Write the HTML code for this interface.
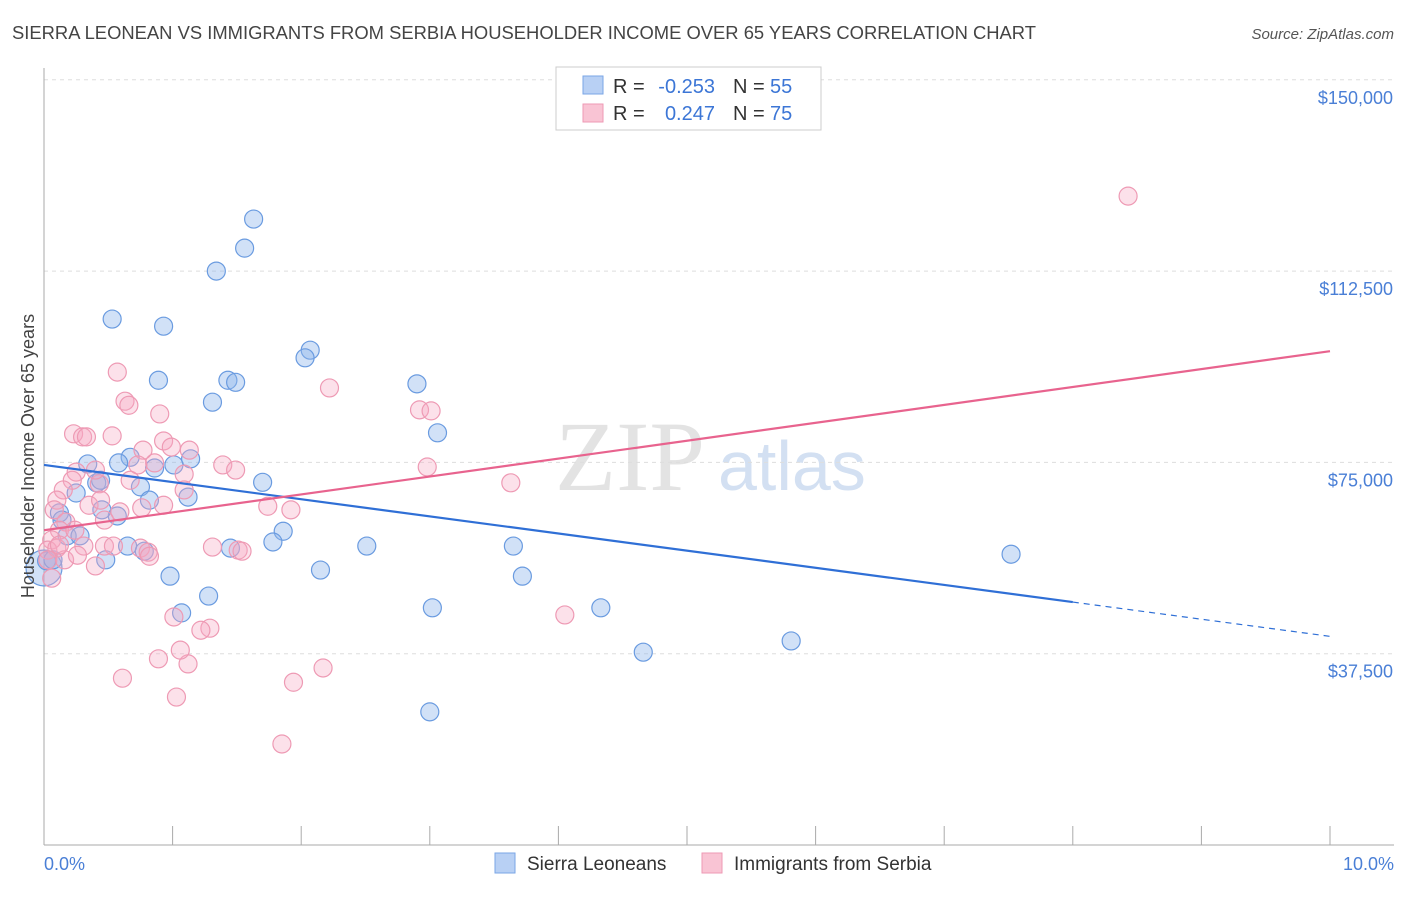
<!DOCTYPE html>
<html><head><meta charset="utf-8"><style>
body{margin:0;background:#fff;font-family:"Liberation Sans",sans-serif;}
</style></head><body>
<svg id="chart" width="1406" height="892" xmlns="http://www.w3.org/2000/svg" style="font-family:'Liberation Sans',sans-serif">
<text x="12" y="39" font-size="18" fill="#444" textLength="1024" lengthAdjust="spacingAndGlyphs">SIERRA LEONEAN VS IMMIGRANTS FROM SERBIA HOUSEHOLDER INCOME OVER 65 YEARS CORRELATION CHART</text>
<text x="1394" y="39" font-size="15" fill="#555" font-style="italic" text-anchor="end">Source: ZipAtlas.com</text>
<text x="555" y="490" font-size="100" fill="#ddd" font-family="Liberation Serif" opacity="0.8">ZIP</text>
<text x="718" y="490" font-size="70" fill="#c9d9ef" opacity="0.8">atlas</text>
<g id="grid"></g><g id="axes"></g><g id="pts"></g><g id="lines"></g>
<text transform="translate(34,456) rotate(-90)" font-size="18" fill="#444" text-anchor="middle">Householder Income Over 65 years</text>
<text x="44" y="870" font-size="18" fill="#4a7fd6">0.0%</text>
<text x="1394" y="870" font-size="18" fill="#4a7fd6" text-anchor="end">10.0%</text>
<g>
<rect x="556" y="67" width="265" height="63" fill="#fff" stroke="#ccc"/>
<rect x="583" y="76" width="20" height="18" fill="#b8d0f4" stroke="#7aa6e6"/>
<rect x="583" y="104" width="20" height="18" fill="#f9c4d4" stroke="#ee9ab4"/>
<text x="613" y="93" font-size="20" fill="#333">R =</text>
<text x="715" y="93" font-size="20" fill="#3c76d6" text-anchor="end">-0.253</text>
<text x="733" y="93" font-size="20" fill="#333">N =</text>
<text x="770" y="93" font-size="20" fill="#3c76d6">55</text>
<text x="613" y="120" font-size="20" fill="#333">R =</text>
<text x="715" y="120" font-size="20" fill="#3c76d6" text-anchor="end">0.247</text>
<text x="733" y="120" font-size="20" fill="#333">N =</text>
<text x="770" y="120" font-size="20" fill="#3c76d6">75</text>
</g>
<g>
<rect x="495" y="853" width="20" height="20" fill="#b8d0f4" stroke="#7aa6e6"/>
<text x="527" y="870" font-size="19" fill="#333">Sierra Leoneans</text>
<rect x="702" y="853" width="20" height="20" fill="#f9c4d4" stroke="#ee9ab4"/>
<text x="734" y="870" font-size="19" fill="#333">Immigrants from Serbia</text>
</g>
</svg>
<script>
const blueX=[1.63,1.56,1.34,0.53,0.93,2.07,2.03,0.89,1.43,1.49,2.90,1.31,3.06,0.67,0.34,0.58,1.14,0.86,1.01,1.70,0.75,0.41,0.25,1.12,0.82,0.12,0.57,0.45,1.86,1.78,0.18,0.28,0.65,0.78,2.51,3.65,1.45,7.52,0.48,2.15,0.98,3.72,0.0,0.02,1.28,1.07,3.02,4.33,4.66,5.81,3.00,0.07,0.14,0.44];
const blueY=[122.7,117.0,112.5,103.1,101.7,97.0,95.5,91.1,91.1,90.7,90.4,86.8,80.8,76.0,74.7,74.9,75.7,73.9,74.5,71.1,70.2,71.0,69.0,68.2,67.6,65.1,64.5,65.7,61.5,59.4,60.6,60.6,58.6,57.6,58.6,58.6,58.2,57.0,55.9,53.9,52.7,52.7,54.3,55.7,48.8,45.5,46.5,46.5,37.8,40.0,26.1,55.9,63.7,71.5];
const pinkX=[8.43,0.57,2.22,0.63,0.66,0.90,2.92,3.01,0.23,0.30,0.33,0.53,0.93,0.77,0.99,1.13,0.86,1.39,1.49,0.73,0.25,0.22,0.43,0.15,0.10,0.08,1.09,3.63,2.98,1.09,0.17,0.35,0.93,0.76,1.74,1.92,0.59,0.47,0.12,0.06,0.03,0.10,0.31,0.47,0.54,0.75,0.81,0.82,1.31,1.51,1.54,0.40,0.06,4.05,1.01,1.29,1.22,0.89,1.12,1.06,0.61,2.17,1.94,1.03,1.85,0.03,0.24,0.16,0.40,0.67,0.12,0.26,0.44];
const pinkY=[127.2,92.7,89.6,87.0,86.2,84.5,85.3,85.1,80.6,80.0,80.0,80.2,79.2,77.4,78.0,77.4,74.9,74.5,73.5,74.5,73.1,71.5,70.8,69.6,67.6,65.7,72.7,71.0,74.1,69.6,63.3,66.6,66.6,66.1,66.4,65.7,65.3,63.7,61.7,59.8,57.8,58.2,58.6,58.6,58.6,58.2,57.4,56.6,58.4,57.8,57.6,54.7,52.3,45.1,44.7,42.5,42.1,36.5,35.5,38.2,32.7,34.7,31.9,29.0,19.8,55.9,61.7,55.9,73.5,71.5,58.8,56.8,67.6];
const yTicks=[37500,75000,112500,150000];
const yTickLabels=["$37,500","$75,000","$112,500","$150,000"];
const blueTrend=[74.5,-3.36]; // intercept (k$), slope per %
const pinkTrend=[61.7,3.51];
const NS="http://www.w3.org/2000/svg";
const X=v=>44+v*128.6, Y=v=>845-v*1000/37500*191.3;
function mk(tag,a,p){const e=document.createElementNS(NS,tag);for(const k in a)e.setAttribute(k,a[k]);p.appendChild(e);return e;}
const grid=document.getElementById('grid'),axes=document.getElementById('axes'),pts=document.getElementById('pts'),lines=document.getElementById('lines');
yTicks.forEach((t,i)=>{const y=Y(t/1000);
const g=mk('line',{x1:44,x2:1394,y1:y,y2:y,stroke:'#ddd','stroke-dasharray':'4,4'},grid);


const l=mk('text',{x:1393,y:y+24,'font-size':18,fill:'#4a7fd6','text-anchor':'end'},grid);l.textContent=yTickLabels[i];

});
const ax=mk('line',{x1:44,x2:44,y1:68,y2:845,stroke:'#aaa'},axes);


const bx=mk('line',{x1:44,x2:1394,y1:845,y2:845,stroke:'#aaa'},axes);


for(let i=0;i<=10;i++){const t=mk('line',{x1:X(i),x2:X(i),y1:826,y2:845,stroke:'#aaa'},axes);

}
blueX.forEach((x,i)=>{const c=mk('circle',{cx:X(x),cy:Y(blueY[i]),r:i==42?18:9,fill:'rgba(140,180,235,0.4)',stroke:'#6a9be0','stroke-width':1.2},pts);

});
pinkX.forEach((x,i)=>{const c=mk('circle',{cx:X(x),cy:Y(pinkY[i]),r:9,fill:'rgba(245,170,195,0.35)',stroke:'#ee9ab4','stroke-width':1.2},pts);

});
const bf=x=>blueTrend[0]+blueTrend[1]*x, pf=x=>pinkTrend[0]+pinkTrend[1]*x;
const b1=mk('line',{x1:X(0),y1:Y(bf(0)),x2:X(8),y2:Y(bf(8)),stroke:'#2f6fd6','stroke-width':2.2},lines);


const b2=mk('line',{x1:X(8),y1:Y(bf(8)),x2:X(10),y2:Y(bf(10)),stroke:'#2f6fd6','stroke-width':1.2,'stroke-dasharray':'6,5'},lines);


const p1=mk('line',{x1:X(0),y1:Y(pf(0)),x2:X(10),y2:Y(pf(10)),stroke:'#e8638e','stroke-width':2.2},lines);


</script>
</body></html>
